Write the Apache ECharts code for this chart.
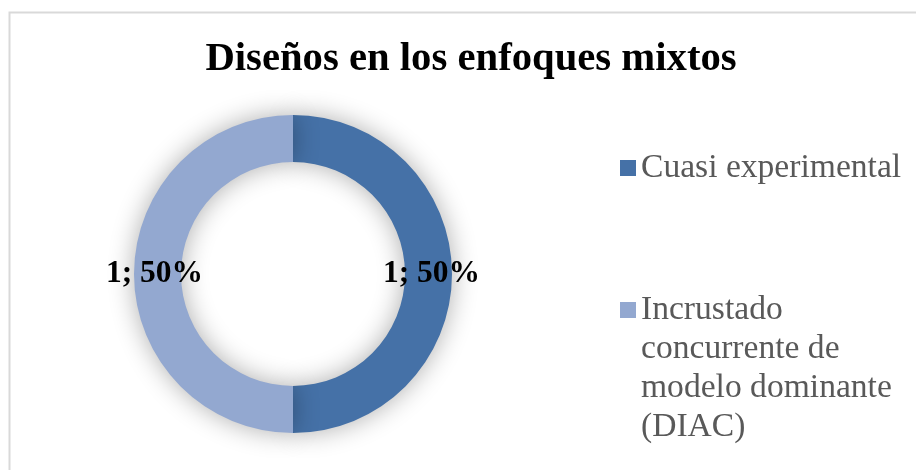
<!DOCTYPE html>
<html>
<head>
<meta charset="utf-8">
<script src="https://cdn.jsdelivr.net/npm/echarts@6/dist/echarts.min.js"></script>
<style>
  html, body { margin: 0; padding: 0; background: #ffffff; }
  #chart { width: 916px; height: 470px; }
</style>
</head>
<body>
<div id="chart"></div>
<script>
const titleText = 'Diseños en los enfoques mixtos';
const categories = ['Cuasi experimental', 'Incrustado concurrente de modelo dominante (DIAC)'];
const legendLabels = ['Cuasi experimental', 'Incrustado\nconcurrente de\nmodelo dominante\n(DIAC)'];
const values = [1, 1];
const colors = ['#4571A7', '#93A8D0'];

const FONT = '"Liberation Serif", "DejaVu Serif", serif';

const ctx = document.createElement('canvas').getContext('2d');
function fit(text, weight, target) {
  ctx.font = weight + ' 100px ' + FONT;
  const w = ctx.measureText(text).width;
  return Math.round(target / w * 100 * 10) / 10;
}
function measure(text, weight, size) {
  ctx.font = weight + ' ' + size + 'px ' + FONT;
  return ctx.measureText(text).width;
}

const titleSize = fit(titleText, 'bold', 532);
const titleW = measure(titleText, 'bold', titleSize);
const legendSize = fit('Cuasi experimental', 'normal', 260);
const labelSize = fit('1; 50%', 'bold', 97);

const LH = 39;
const BLOCK = LH * 4;
const SQ_TOP = LH / 2 - 8;
// tall icon whose visible part is a 16x16 square aligned with the first text line
const tallIcon = 'path://M0,' + SQ_TOP + 'H16V' + (SQ_TOP + 16) + 'H0Z M0,0L0.001,0Z M0,' + BLOCK + 'L0.001,' + BLOCK + 'Z';

const chart = echarts.init(document.getElementById('chart'), null, { renderer: 'canvas' });
chart.setOption({
  backgroundColor: '#ffffff',
  animation: false,
  color: colors,
  title: {
    text: titleText,
    left: 471 - titleW / 2,
    top: 39,
    padding: 0,
    textStyle: { fontFamily: FONT, fontWeight: 'bold', fontSize: titleSize, color: '#000000' }
  },
  graphic: [{
    type: 'rect', silent: true, z: -1,
    shape: { x: 9.5, y: 12.5, width: 1000, height: 1000 },
    style: { fill: 'none', stroke: '#D9D9D9', lineWidth: 2 }
  }],
  legend: [
    {
      data: [{ name: categories[0] }],
      orient: 'vertical', left: 620, top: 160 + 8 - LH / 2, padding: 0,
      itemWidth: 16, itemHeight: 16, itemGap: 0, icon: 'rect', selectedMode: false,
      formatter: () => legendLabels[0],
      textStyle: { fontFamily: FONT, fontSize: legendSize, color: '#595959', lineHeight: LH }
    },
    {
      data: [{ name: categories[1] }],
      orient: 'vertical', left: 620, top: 302 - SQ_TOP, padding: 0,
      itemWidth: 16, itemHeight: BLOCK, itemGap: 0, icon: tallIcon, selectedMode: false,
      formatter: () => legendLabels[1],
      textStyle: { fontFamily: FONT, fontSize: legendSize, color: '#595959', lineHeight: LH }
    }
  ],
  series: [{
    type: 'pie',
    center: [293, 274],
    radius: [112, 159],
    startAngle: 90,
    clockwise: true,
    avoidLabelOverlap: false,
    emphasis: { disabled: true },
    itemStyle: { shadowBlur: 26, shadowColor: 'rgba(0,0,0,0.32)', borderWidth: 0 },
    label: {
      show: true,
      position: 'inside',
      formatter: p => p.value + '; ' + Math.round(p.percent) + '%',
      padding: [6, 0, 0, 0],
      fontFamily: FONT, fontWeight: 'bold', fontSize: labelSize, color: '#000000'
    },
    labelLine: { show: false },
    data: categories.map((c, i) => ({ name: c, value: values[i] }))
  }]
});
</script>
</body>
</html>
